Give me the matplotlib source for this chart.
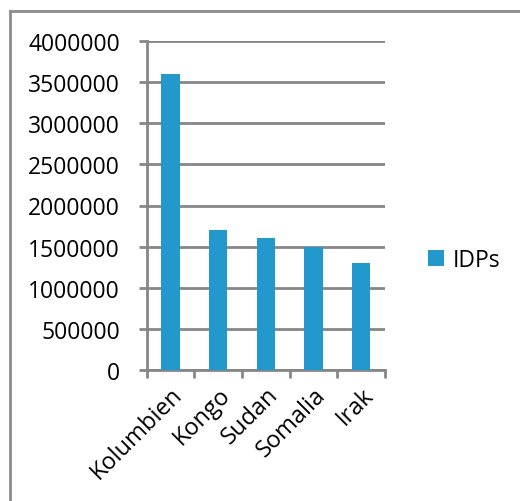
import matplotlib
matplotlib.use("Agg")
import matplotlib.pyplot as plt
from matplotlib.lines import Line2D

categories = ["Kolumbien", "Kongo", "Sudan", "Somalia", "Irak"]
values = [3600000, 1700000, 1600000, 1500000, 1300000]
series_name = "IDPs"
yticks = list(range(0, 4000001, 500000))

plt.rcParams['font.family'] = ['Open Sans', 'DejaVu Sans']

W, H = 520, 502
fig = plt.figure(figsize=(W/100, H/100), dpi=100)
fig.patch.set_facecolor('white')

# outer border: top and left only
bc = '#8c8c8c'
fig.lines.append(Line2D([10/W, 1], [1-12/H, 1-12/H], transform=fig.transFigure, color=bc, linewidth=2))
fig.lines.append(Line2D([10/W, 10/W], [0, 1-12/H], transform=fig.transFigure, color=bc, linewidth=2))

left, right, top, bottom = 146.7, 385, 42, 371
ax = fig.add_axes([left/W, 1-bottom/H, (right-left)/W, (bottom-top)/H])

grid_c = '#868686'
x = list(range(len(categories)))
ax.bar(x, values, width=0.38, color='#2398CD', zorder=3, label=series_name)
ax.set_xlim(-0.5, len(categories)-0.5)
ax.set_ylim(0, 4000000)
ax.set_yticks(yticks)
ax.set_yticklabels([str(v) for v in yticks], fontsize=16.5)
ax.yaxis.grid(True, color=grid_c, linewidth=2, zorder=0)
ax.set_xticks([i - 0.5 for i in range(len(categories)+1)], minor=False)
ax.set_xticklabels([])
ax.set_xticks(x, minor=True)
ax.set_xticklabels(categories, minor=True, rotation=45, ha='right', va='top',
                   fontsize=17, rotation_mode='anchor')
ax.tick_params(axis='x', which='minor', length=0, pad=9)
ax.tick_params(axis='x', which='major', length=5.8, width=2, color=grid_c)
ax.tick_params(axis='y', length=5.8, width=2, color=grid_c, pad=13.5)
for s in ['top', 'right']:
    ax.spines[s].set_visible(False)
for s in ['left', 'bottom']:
    ax.spines[s].set_color(grid_c)
    ax.spines[s].set_linewidth(2)

leg = fig.legend(loc='center left', bbox_to_anchor=(407/W, 1-261/H), frameon=False,
                 fontsize=16.5, handlelength=0.7, handleheight=0.7, handletextpad=0.4)

fig.savefig('out.png', dpi=100)
